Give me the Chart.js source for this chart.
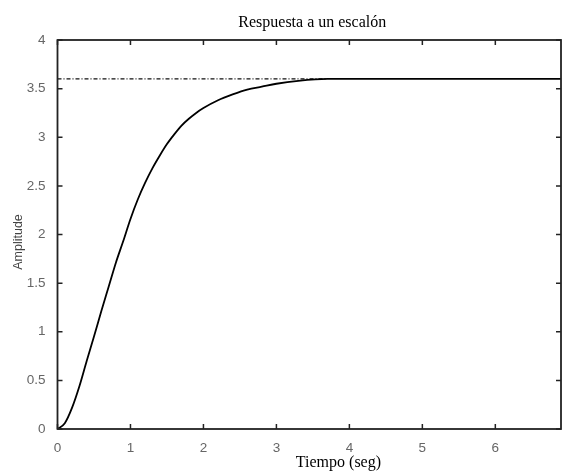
<!DOCTYPE html>
<html>
<head>
<meta charset="utf-8">
<script src="https://cdn.jsdelivr.net/npm/chart.js@4/dist/chart.umd.min.js"></script>
<style>
  html, body { margin: 0; padding: 0; background: #fff; }
  #wrap { width: 562px; height: 471px; }
</style>
</head>
<body>
<div id="wrap"><canvas id="grafico"></canvas></div>
<script>
// datos
const tiempo = [0, 0.1, 0.2, 0.3, 0.4, 0.5, 0.6, 0.7, 0.8, 0.9, 1.0, 1.1, 1.2, 1.3, 1.4, 1.5, 1.6, 1.7, 1.8, 1.9, 2.0, 2.2, 2.4, 2.6, 2.8, 3.0, 3.3, 3.7, 6.9];
const amplitud = [0, 0.06, 0.22, 0.44, 0.70, 0.95, 1.21, 1.46, 1.71, 1.93, 2.16, 2.36, 2.53, 2.68, 2.81, 2.93, 3.03, 3.12, 3.19, 3.25, 3.30, 3.38, 3.44, 3.49, 3.52, 3.55, 3.58, 3.60, 3.60];
const finalT = [0, 3.7];
const finalY = [3.6, 3.6];
const ticksX = [0, 1, 2, 3, 4, 5, 6];
const ticksY = [0, 0.5, 1, 1.5, 2, 2.5, 3, 3.5, 4];

const titulo = "Respuesta a un escalón";
const etiquetaX = "Tiempo (seg)";
const etiquetaY = "Amplitude";

// ticks hacia dentro, caja y textos estilo matlab
const estiloMatlab = {
  id: "estiloMatlab",
  afterDraw(chart) {
    const ctx = chart.ctx;
    const a = chart.chartArea;
    const sx = chart.scales.x, sy = chart.scales.y;
    ctx.save();
    ctx.strokeStyle = "#222";
    ctx.lineWidth = 1.8;
    ctx.strokeRect(a.left, a.top, a.right - a.left, a.bottom - a.top);
    ctx.lineWidth = 1.5;
    ctx.beginPath();
    sx.ticks.forEach(t => {
      const px = sx.getPixelForValue(t.value);
      ctx.moveTo(px, a.bottom); ctx.lineTo(px, a.bottom - 5);
      ctx.moveTo(px, a.top); ctx.lineTo(px, a.top + 5);
    });
    sy.ticks.forEach(t => {
      const py = sy.getPixelForValue(t.value);
      ctx.moveTo(a.left, py); ctx.lineTo(a.left + 5, py);
      ctx.moveTo(a.right, py); ctx.lineTo(a.right - 5, py);
    });
    ctx.stroke();

    ctx.fillStyle = "#000";
    ctx.textAlign = "center";
    ctx.textBaseline = "alphabetic";
    ctx.font = "16px 'Liberation Serif', 'Times New Roman', serif";
    ctx.fillText(titulo, (a.left + a.right) / 2 + 3, 27);
    ctx.fillText(etiquetaX, sx.getPixelForValue(3.85), 467);

    ctx.font = "12.5px 'Liberation Sans', Arial, sans-serif";
    ctx.fillStyle = "#444";
    ctx.translate(19, 242);
    ctx.rotate(-Math.PI / 2);
    ctx.textBaseline = "middle";
    ctx.fillText(etiquetaY, 0, 0);
    ctx.restore();
  }
};

function dibujar() {
  const ctx = document.getElementById("grafico").getContext("2d");
  new Chart(ctx, {
    type: "line",
    data: {
      datasets: [
        {
          label: "respuesta",
          data: tiempo.map((t, i) => ({ x: t, y: amplitud[i] })),
          borderColor: "#000",
          borderWidth: 1.8,
          pointRadius: 0,
          cubicInterpolationMode: "monotone",
          fill: false
        },
        {
          label: "final",
          data: finalT.map((t, i) => ({ x: t, y: finalY[i] })),
          borderColor: "#111",
          borderWidth: 1.4,
          borderDash: [4, 2, 1, 2],
          pointRadius: 0,
          fill: false
        }
      ]
    },
    options: {
      responsive: false,
      animation: false,
      layout: { padding: { top: 40, right: 1, left: 0, bottom: 0 } },
      plugins: {
        legend: { display: false },
        title: { display: false },
        tooltip: { enabled: false }
      },
      scales: {
        x: {
          type: "linear",
          min: 0,
          max: 6.9,
          afterBuildTicks: s => { s.ticks = ticksX.map(v => ({ value: v })); },
          afterFit: s => { s.height = 42; },
          grid: { display: false },
          border: { display: false },
          ticks: {
            color: "#666",
            font: { family: "'Liberation Sans', Arial, sans-serif", size: 13.5 },
            padding: 3,
            maxRotation: 0
          }
        },
        y: {
          type: "linear",
          min: 0,
          max: 4,
          afterBuildTicks: s => { s.ticks = ticksY.map(v => ({ value: v })); },
          afterFit: s => { s.width = 57.5; },
          grid: { display: false },
          border: { display: false },
          ticks: {
            color: "#666",
            font: { family: "'Liberation Sans', Arial, sans-serif", size: 13.5 },
            padding: 4,
            callback: v => String(v)
          }
        }
      }
    },
    plugins: [estiloMatlab]
  });
}

const cv = document.getElementById("grafico");
cv.width = 562;
cv.height = 471;
dibujar();
</script>
</body>
</html>
